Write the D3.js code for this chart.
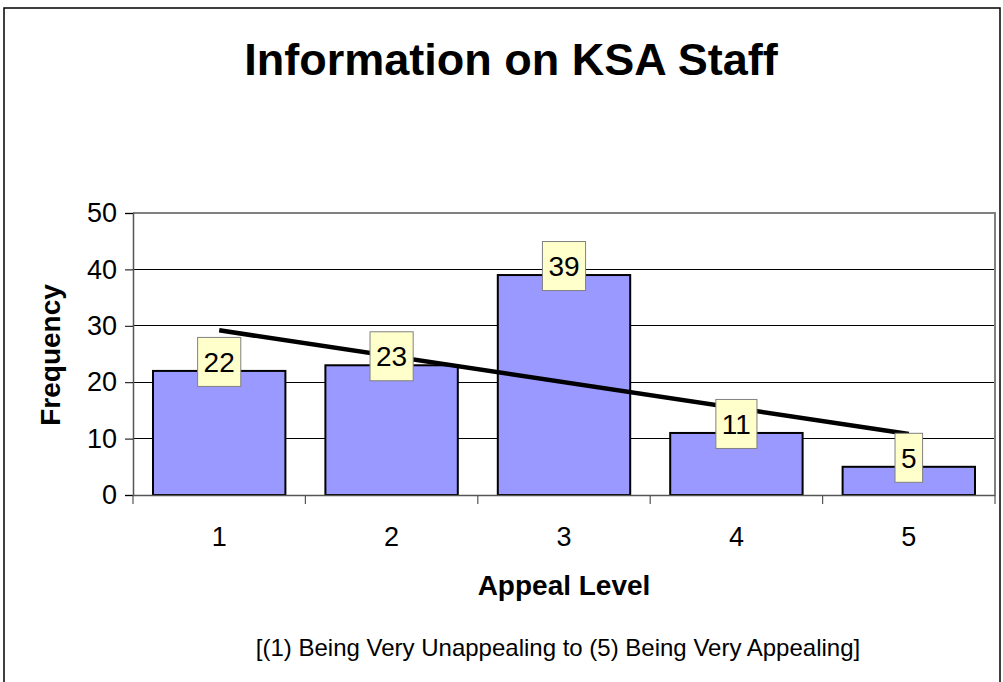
<!DOCTYPE html>
<html>
<head>
<meta charset="utf-8">
<script src="https://cdn.jsdelivr.net/npm/d3@7/dist/d3.min.js"></script>
<style>
  html, body { margin: 0; padding: 0; background: #fff; }
  svg { display: block; font-family: "Liberation Sans", Arial, sans-serif; }
</style>
</head>
<body>
<svg id="chart" width="1003" height="682"></svg>
<script>
const categories = ["1", "2", "3", "4", "5"];
const frequencies = [22, 23, 39, 11, 5];
const yTicks = [0, 10, 20, 30, 40, 50];
const titleText = "Information on KSA Staff";
const xTitle = "Appeal Level";
const yTitle = "Frequency";
const footnote = "[(1) Being Very Unappealing to (5) Being Very Appealing]";

const svg = d3.select("#chart");
const plot = { left: 133, right: 995, top: 213, bottom: 495 };

// outer frame
svg.append("rect").attr("x", 4).attr("y", 8).attr("width", 996).attr("height", 700)
  .attr("fill", "#fff").attr("stroke", "#000").attr("stroke-width", 1.5);

const x = d3.scaleBand().domain(categories).range([plot.left, plot.right])
  .paddingInner(0.232).paddingOuter(0.116);
const xPos = d3.scaleBand().domain(categories).range([plot.left, plot.right]).padding(0);
const y = d3.scaleLinear().domain([0, 50]).range([plot.bottom, plot.top]);

// gridlines
svg.append("g").selectAll("line").data(yTicks.filter(t => t > 0 && t < 50)).join("line")
  .attr("x1", plot.left).attr("x2", plot.right)
  .attr("y1", d => y(d)).attr("y2", d => y(d))
  .attr("stroke", "#000").attr("stroke-width", 1).attr("shape-rendering", "crispEdges");

// plot border top and right
svg.append("path")
  .attr("d", `M${plot.left},${y(50)}H${plot.right}V${plot.bottom}`)
  .attr("fill", "none").attr("stroke", "#808080").attr("stroke-width", 2);

// bars
svg.append("g").selectAll("rect").data(frequencies).join("rect")
  .attr("x", (d, i) => x(categories[i]))
  .attr("width", x.bandwidth())
  .attr("y", d => y(d))
  .attr("height", d => y(0) - y(d))
  .attr("fill", "#9999FF").attr("stroke", "#000").attr("stroke-width", 2);

// y axis
const yAxis = svg.append("g").attr("transform", `translate(${plot.left},0)`)
  .call(d3.axisLeft(y).tickValues(yTicks).tickSize(8).tickPadding(8));
yAxis.select(".domain").attr("stroke", "#555").attr("stroke-width", 1.5);
yAxis.selectAll(".tick line").attr("stroke", "#000");
yAxis.selectAll(".tick text").attr("font-size", 27).attr("fill", "#000")
  .attr("font-family", "Liberation Sans, Arial, sans-serif");

// x axis
const xAxis = svg.append("g").attr("transform", `translate(0,${plot.bottom})`)
  .call(d3.axisBottom(xPos).tickSize(0).tickPadding(32));
xAxis.select(".domain").attr("stroke", "#555").attr("stroke-width", 1.5);
xAxis.selectAll(".tick text").attr("font-size", 27).attr("fill", "#000")
  .attr("font-family", "Liberation Sans, Arial, sans-serif");
// category boundary ticks
const bounds = categories.map(c => xPos(c)).concat([plot.right]);
svg.append("g").selectAll("line").data(bounds).join("line")
  .attr("x1", d => d).attr("x2", d => d)
  .attr("y1", plot.bottom).attr("y2", plot.bottom + 9)
  .attr("stroke", "#555").attr("stroke-width", 1.2);

// linear trendline computed from data
const n = frequencies.length;
const xs = frequencies.map((d, i) => i + 1);
const mx = d3.mean(xs), my = d3.mean(frequencies);
const slope = d3.sum(xs.map((xv, i) => (xv - mx) * (frequencies[i] - my))) / d3.sum(xs.map(xv => (xv - mx) ** 2));
const icpt = my - slope * mx;
const trend = xs.map(xv => ({ cx: xPos(categories[xv - 1]) + xPos.bandwidth() / 2, v: icpt + slope * xv }));
svg.append("path")
  .datum([trend[0], trend[n - 1]])
  .attr("d", d3.line().x(d => d.cx).y(d => y(d.v)))
  .attr("fill", "none").attr("stroke", "#000").attr("stroke-width", 4.5);

// data labels
const lab = svg.append("g").selectAll("g").data(frequencies).join("g")
  .attr("transform", (d, i) => `translate(${x(categories[i]) + x.bandwidth() / 2},${y(d) - 9})`);
lab.append("rect").attr("class", "lbox");
lab.append("text").text(d => d)
  .attr("text-anchor", "middle").attr("dy", "0.35em")
  .attr("font-size", 28).attr("fill", "#000");
lab.each(function () {
  const g = d3.select(this);
  const w = g.select("text").node().getComputedTextLength();
  g.select("rect").attr("x", -w / 2 - 6).attr("width", w + 12)
    .attr("y", -24.5).attr("height", 49)
    .attr("fill", "#FFFFCC").attr("stroke", "#808080").attr("stroke-width", 1);
});

// titles
svg.append("text").attr("x", 511).attr("y", 75).attr("text-anchor", "middle")
  .attr("font-size", 45).attr("font-weight", "bold").text(titleText);
svg.append("text").attr("x", 564).attr("y", 595).attr("text-anchor", "middle")
  .attr("font-size", 28).attr("font-weight", "bold").text(xTitle);
svg.append("text").attr("transform", `translate(60,355) rotate(-90)`).attr("text-anchor", "middle")
  .attr("font-size", 28).attr("font-weight", "bold").text(yTitle);
svg.append("text").attr("x", 558).attr("y", 656).attr("text-anchor", "middle")
  .attr("font-size", 24).text(footnote);
</script>
</body>
</html>
